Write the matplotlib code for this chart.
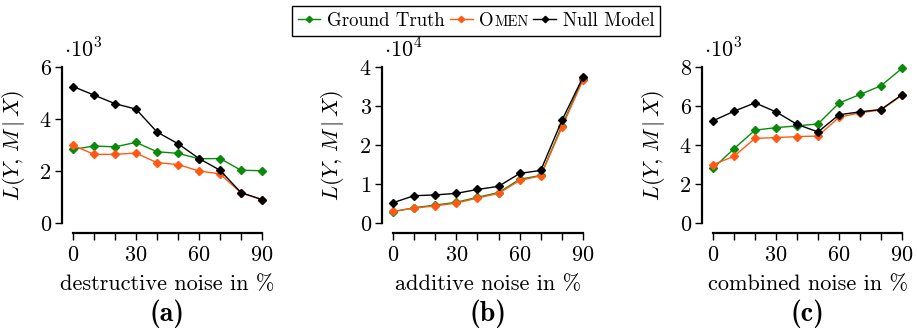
import numpy as np
import matplotlib.pyplot as plt
from matplotlib.transforms import offset_copy

plt.rcParams['font.family'] = 'cmr10'
plt.rcParams['mathtext.fontset'] = 'cm'
plt.rcParams['axes.formatter.use_mathtext'] = True

noise = [0, 10, 20, 30, 40, 50, 60, 70, 80, 90]

# (a) destructive noise, x10^3
a_truth = [2.83, 2.96, 2.93, 3.10, 2.74, 2.68, 2.47, 2.48, 2.03, 2.01]
a_omen = [2.99, 2.64, 2.64, 2.69, 2.32, 2.25, 2.00, 1.89, 1.16, 0.90]
a_null = [5.25, 4.92, 4.59, 4.38, 3.50, 3.05, 2.48, 2.03, 1.17, 0.90]

# (b) additive noise, x10^4
b_truth = [0.29, 0.39, 0.46, 0.53, 0.66, 0.78, 1.12, 1.22, 2.49, 3.70]
b_omen = [0.30, 0.38, 0.44, 0.51, 0.64, 0.76, 1.09, 1.21, 2.45, 3.67]
b_null = [0.52, 0.70, 0.72, 0.76, 0.86, 0.94, 1.27, 1.35, 2.63, 3.74]

# (c) combined noise, x10^3
c_truth = [2.80, 3.81, 4.76, 4.89, 4.98, 5.08, 6.15, 6.59, 7.04, 7.93]
c_omen = [2.99, 3.42, 4.34, 4.38, 4.43, 4.46, 5.42, 5.65, 5.80, 6.55]
c_null = [5.24, 5.73, 6.16, 5.70, 5.06, 4.67, 5.55, 5.70, 5.82, 6.58]

panels = [
    ('destructive noise in %', '(a)', 3, 6, [0, 2, 4, 6], a_truth, a_omen, a_null),
    ('additive noise in %', '(b)', 4, 4, [0, 1, 2, 3, 4], b_truth, b_omen, b_null),
    ('combined noise in %', '(c)', 3, 8, [0, 2, 4, 6, 8], c_truth, c_omen, c_null),
]

green = '#0a8a0a'
orange = '#ff5a14'
black = '#000000'
fs = 16

W, H = 917, 333
fig = plt.figure(figsize=(W / 100, H / 100), dpi=100)

# axes boxes in pixels: left (x=0 position), right (x=90 position)
boxes = [(73, 262), (393, 583), (713, 902)]
top_px, bot_px = 67, 223

for (xlab, plab, exp, ymax, yt, gt, om, nu), (l, r) in zip(panels, boxes):
    ax = fig.add_axes([l / W, 1 - bot_px / H, (r - l) / W, (bot_px - top_px) / H])
    scale = 10 ** exp
    for vals, c in [(gt, green), (om, orange), (nu, black)]:
        ax.plot(noise, np.array(vals) * scale, color=c, lw=1.0, marker='D',
                ms=3.6, clip_on=False, zorder=3)
    ax.set_xlim(0, 90)
    ax.set_ylim(0, ymax * scale)
    ax.set_xticks([0, 30, 60, 90])
    ax.set_xticks(noise, minor=True)
    ax.set_yticks(np.array(yt) * scale)
    ax.set_yticklabels([str(v) for v in yt])
    ax.spines['top'].set_visible(False)
    ax.spines['right'].set_visible(False)
    ax.spines['left'].set_position(('outward', 8))
    ax.spines['bottom'].set_position(('outward', 7))
    for s in ('left', 'bottom'):
        ax.spines[s].set_linewidth(1.6)
    ax.tick_params(which='both', direction='out', width=1.0, labelsize=fs)
    ax.tick_params(which='both', length=5)
    ax.tick_params(axis='x', pad=4)
    ax.tick_params(axis='y', pad=3)
    ax.set_xlabel(xlab, fontsize=fs)
    ax.xaxis.set_label_coords(0.5, -0.33)
    ax.set_ylabel(r'$L(Y,\,M\,|\,X)$', fontsize=fs)
    ax.yaxis.set_label_coords(-0.245, 0.5)
    ax.text(-0.045, 1.058, r'$\cdot 10^{%d}$' % exp, transform=ax.transAxes,
            fontsize=fs, ha='left', va='baseline')
    ax.text(0.5, -0.49, plab, transform=ax.transAxes, ha='center', va='top',
            fontsize=20, family='cmb10')
    if plab == '(b)':
        hs = [ax.lines[0], ax.lines[1], ax.lines[2]]

leg = fig.legend(hs, ['Ground Truth', 'Omen', 'Null Model'], loc='center',
                 bbox_to_anchor=(476 / W, 1 - 21 / H), ncol=3, fontsize=13.5,
                 frameon=True, fancybox=False, edgecolor='black', framealpha=1,
                 handlelength=1.2, handletextpad=0.35, columnspacing=0.3,
                 borderpad=0.3, markerscale=0.9)
leg.get_frame().set_linewidth(1.0)

# small caps label for the second entry: "O" + smaller "MEN"
otext = leg.get_texts()[1]
otext.set_alpha(0)
fig.canvas.draw()
pos = otext.get_position()
tr = otext.get_transform()
o = fig.text(pos[0], pos[1], 'O', fontsize=13.5, transform=tr,
             ha=otext.get_ha(), va=otext.get_va(), zorder=10)
fig.canvas.draw()
ow = o.get_window_extent().width
fig.text(pos[0], pos[1], 'MEN', fontsize=10.5, ha='left', va=otext.get_va(),
         transform=offset_copy(tr, fig=fig, x=ow + 0.5, y=0, units='dots'),
         zorder=10)

fig.savefig('out.png', dpi=100)
